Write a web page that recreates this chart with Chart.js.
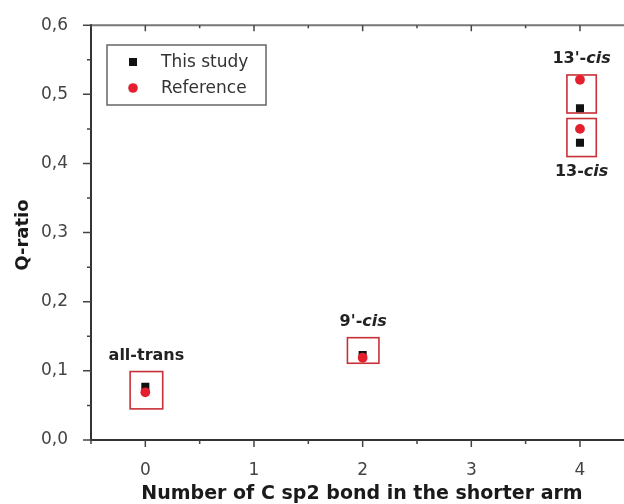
<!DOCTYPE html>
<html>
<head>
<meta charset="utf-8">
<script src="https://cdn.jsdelivr.net/npm/chart.js@4/dist/chart.umd.min.js"></script>
<style>
  html, body { margin: 0; padding: 0; background: #fff; overflow: hidden; }
  #wrap { width: 640px; height: 504px; }
</style>
</head>
<body>
<div id="wrap"><canvas id="chart" width="640" height="504"></canvas></div>
<script>
// Q-ratio of carotenoid isomers vs. number of C sp2 bonds in the shorter arm
const isomerNames   = ['all-trans', "9'-cis", "13'-cis", '13-cis'];
const bondCounts    = [0, 2, 4, 4];
const thisStudyQ    = [0.077, 0.123, 0.480, 0.430];
const referenceQ    = [0.069, 0.119, 0.521, 0.450];
// highlight boxes around each isomer group (data units)
const boxLeft   = [-0.14, 1.86, 3.88, 3.88];
const boxRight  = [0.16, 2.15, 4.15, 4.15];
const boxBottom = [0.045, 0.111, 0.473, 0.410];
const boxTop    = [0.099, 0.148, 0.528, 0.465];
const labelSide = ['above', 'above', 'above', 'below'];
const xTicks = [0, 1, 2, 3, 4];
const yTicks = [0, 0.1, 0.2, 0.3, 0.4, 0.5, 0.6];

const FONT = '"DejaVu Sans", sans-serif';
const RED = '#e5202e';
const BOX_RED = '#c83038';

const toPoints = (xs, ys) => xs.map((x, i) => ({ x, y: ys[i] }));

const decorations = {
  id: 'decorations',
  beforeDatasetsDraw(chart) {
    const { ctx, scales: { x, y } } = chart;
    ctx.save();
    // highlight boxes
    ctx.strokeStyle = BOX_RED;
    ctx.lineWidth = 1.6;
    for (let i = 0; i < isomerNames.length; i++) {
      const l = x.getPixelForValue(boxLeft[i]);
      const r = x.getPixelForValue(boxRight[i]);
      const t = y.getPixelForValue(boxTop[i]);
      const b = y.getPixelForValue(boxBottom[i]);
      ctx.strokeRect(l, t, r - l, b - t);
    }
    ctx.restore();
  },
  afterDraw(chart) {
    const { ctx, chartArea: a, scales: { x, y } } = chart;
    ctx.save();
    // frame
    ctx.lineWidth = 2;
    ctx.strokeStyle = '#777';
    ctx.beginPath();
    ctx.moveTo(a.left, a.top); ctx.lineTo(a.right, a.top);
    ctx.moveTo(a.right, a.top); ctx.lineTo(a.right, a.bottom);
    ctx.stroke();
    ctx.strokeStyle = '#333';
    ctx.beginPath();
    ctx.moveTo(a.left, a.top - 1); ctx.lineTo(a.left, a.bottom + 1);
    ctx.moveTo(a.left - 1, a.bottom); ctx.lineTo(a.right, a.bottom);
    ctx.stroke();

    // tick marks: majors and halfway minors
    ctx.lineWidth = 1.5;
    ctx.strokeStyle = '#444';
    for (let v = Math.ceil(x.min * 2) / 2; v <= x.max + 1e-9; v += 0.5) {
      const px = x.getPixelForValue(v);
      const major = Math.abs(v - Math.round(v)) < 1e-9;
      const len = major ? 7 : 4;
      ctx.beginPath();
      ctx.moveTo(px, a.bottom); ctx.lineTo(px, a.bottom + len);
      ctx.moveTo(px, a.top); ctx.lineTo(px, a.top + len - 1);
      ctx.stroke();
    }
    for (let k = 0; k <= 12; k++) {
      const v = k * 0.05;
      const py = y.getPixelForValue(v);
      const len = k % 2 === 0 ? 8 : 4;
      ctx.beginPath();
      ctx.moveTo(a.left, py); ctx.lineTo(a.left - len, py);
      ctx.moveTo(a.right, py); ctx.lineTo(a.right - len + 1, py);
      ctx.stroke();
    }

    // isomer labels, "cis" set in italic
    ctx.fillStyle = '#222';
    ctx.textBaseline = 'middle';
    for (let i = 0; i < isomerNames.length; i++) {
      const name = isomerNames[i];
      const cx = (x.getPixelForValue(boxLeft[i]) + x.getPixelForValue(boxRight[i])) / 2;
      const cy = labelSide[i] === 'above'
        ? y.getPixelForValue(boxTop[i]) - 16
        : y.getPixelForValue(boxBottom[i]) + 15;
      const cut = name.indexOf('cis');
      const head = cut >= 0 ? name.slice(0, cut) : name;
      const tail = cut >= 0 ? 'cis' : '';
      const fHead = 'bold 16px ' + FONT;
      const fTail = 'italic bold 16px ' + FONT;
      ctx.font = fHead; const wh = ctx.measureText(head).width;
      ctx.font = fTail; const wt = ctx.measureText(tail).width;
      const sx = cx - (wh + wt) / 2;
      ctx.textAlign = 'left';
      ctx.font = fHead; ctx.fillText(head, sx, cy);
      ctx.font = fTail; ctx.fillText(tail, sx + wh, cy);
    }

    // legend
    const lx = 107, ly = 45, lw = 159, lh = 60;
    ctx.lineWidth = 1.5;
    ctx.strokeStyle = '#666';
    ctx.strokeRect(lx, ly, lw, lh);
    ctx.font = '17px ' + FONT;
    ctx.textAlign = 'left';
    ctx.textBaseline = 'middle';
    const ds = chart.data.datasets;
    ctx.fillStyle = ds[0].backgroundColor;
    ctx.fillRect(133 - 4, 62 - 4, 8, 8);
    ctx.fillStyle = ds[1].backgroundColor;
    ctx.beginPath(); ctx.arc(133, 88, 4.8, 0, Math.PI * 2); ctx.fill();
    ctx.fillStyle = '#333';
    ctx.fillText(ds[0].label, 161, 63);
    ctx.fillText(ds[1].label, 161, 89);

    // axis titles
    ctx.fillStyle = '#1a1a1a';
    ctx.font = 'bold 19px ' + FONT;
    ctx.textAlign = 'center';
    ctx.textBaseline = 'alphabetic';
    ctx.fillText('Number of C sp2 bond in the shorter arm', 362, 499);
    ctx.save();
    ctx.translate(28, 235);
    ctx.rotate(-Math.PI / 2);
    ctx.font = 'bold 18px ' + FONT;
    ctx.fillText('Q-ratio', 0, 0);
    ctx.restore();
    ctx.restore();
  }
};

new Chart(document.getElementById('chart'), {
  type: 'scatter',
  data: {
    datasets: [
      {
        label: 'This study',
        data: toPoints(bondCounts, thisStudyQ),
        backgroundColor: '#111',
        borderColor: '#111',
        borderWidth: 0,
        pointStyle: 'rect',
        pointRadius: 5.7,
        order: 2
      },
      {
        label: 'Reference',
        data: toPoints(bondCounts, referenceQ),
        backgroundColor: RED,
        borderColor: RED,
        borderWidth: 0,
        pointStyle: 'circle',
        pointRadius: 4.9,
        order: 1
      }
    ]
  },
  plugins: [decorations],
  options: {
    responsive: false,
    animation: false,
    events: [],
    layout: { padding: { top: 23, right: 4, left: 0, bottom: 0 } },
    plugins: { legend: { display: false }, tooltip: { enabled: false } },
    scales: {
      x: {
        type: 'linear',
        min: -0.5,
        max: 4.5,
        afterBuildTicks: (s) => { s.ticks = xTicks.map(v => ({ value: v })); },
        afterFit: (s) => { s.height = 64; },
        grid: { display: false },
        border: { display: false },
        ticks: {
          padding: 12,
          color: '#444',
          font: { family: FONT, size: 17 },
          callback: (v) => String(v)
        }
      },
      y: {
        type: 'linear',
        min: 0,
        max: 0.6,
        afterBuildTicks: (s) => { s.ticks = yTicks.map(v => ({ value: v })); },
        afterFit: (s) => { s.width = 91; },
        grid: { display: false },
        border: { display: false },
        ticks: {
          padding: 15,
          color: '#444',
          font: { family: FONT, size: 17 },
          callback: (v) => Number(v).toFixed(1).replace('.', ',')
        }
      }
    }
  }
});
</script>
</body>
</html>
